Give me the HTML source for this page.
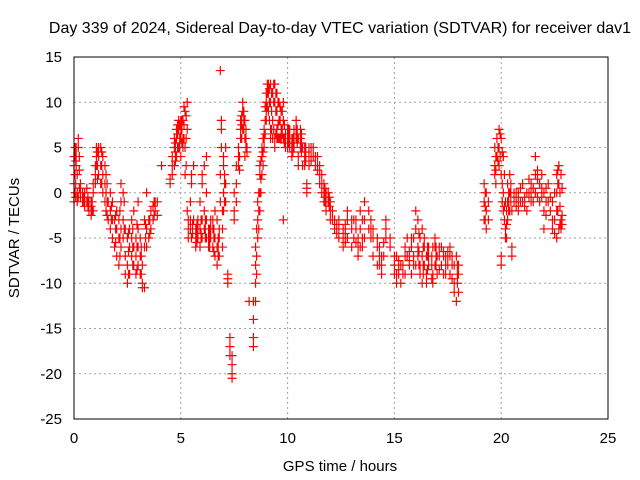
<!DOCTYPE html>
<html><head><meta charset="utf-8"><style>
body{margin:0;background:#fff}
svg{display:block;font-family:"Liberation Sans",sans-serif}
</style></head><body>
<svg id="chart" width="640" height="480">
<rect width="640" height="480" fill="#fff"/>
<text x="340" y="33" font-size="16" text-anchor="middle">Day 339 of 2024, Sidereal Day-to-day VTEC variation (SDTVAR) for receiver dav1</text>
<text transform="translate(19,238) rotate(-90)" font-size="15" text-anchor="middle">SDTVAR / TECUs</text>
<text x="340" y="471" font-size="15" text-anchor="middle">GPS time / hours</text>
<g id="grid"></g><g id="ticks"></g><g id="marks"></g>
<rect x="74" y="57" width="534" height="362" fill="none" stroke="#000" stroke-width="1"/>
</svg>
<script>
const xTicks=[0,5,10,15,20,25];
const yTicks=[15,10,5,0,-5,-10,-15,-20,-25];
const hours=[0,0.05,0.1,0.15,0.2,0.3,0.4,0.5,0.6,0.7,0.8,0.9,1.0,1.05,1.15,1.25,1.35,1.45,1.5,1.6,1.7,1.8,1.9,2.0,2.1,2.2,2.3,2.4,2.5,2.6,2.7,2.8,2.9,3.0,3.1,3.2,3.3,3.4,3.5,3.6,3.7,3.8,3.9,4.1,4.5,4.6,4.7,4.8,4.9,5.0,5.1,5.2,5.3,5.35,5.45,5.5,5.6,5.7,5.8,5.9,6.0,6.1,6.2,6.3,6.4,6.5,6.6,6.7,6.8,6.85,6.9,7.0,7.1,7.2,7.3,7.4,7.5,7.6,7.7,7.8,7.9,8.0,8.1,8.2,8.4,8.5,8.6,8.7,8.8,8.9,9.0,9.1,9.2,9.3,9.4,9.5,9.6,9.7,9.8,9.9,10.0,10.1,10.2,10.3,10.4,10.5,10.6,10.7,10.8,10.9,11.0,11.2,11.3,11.5,11.6,11.7,11.8,11.9,12.0,12.1,12.2,12.4,12.6,12.8,13.0,13.1,13.3,13.4,13.6,13.8,14.0,14.2,14.4,14.6,14.8,15.0,15.1,15.3,15.5,15.6,15.8,16.0,16.1,16.2,16.3,16.4,16.5,16.6,16.8,16.9,17.0,17.2,17.4,17.6,17.8,17.9,18.0,19.2,19.3,19.4,19.7,19.8,19.9,20.0,20.1,20.2,20.3,20.4,20.5,20.6,20.8,21.0,21.2,21.4,21.6,21.8,22.0,22.2,22.4,22.6,22.7,22.8];
const sdtvar=[[1,3,4,-1],[2,4,5,0],[3,5,4],[0,2,-1],[5,6,-0.5],[-0.5,0,1],[-1,0],[-1.5,-0.5,0],[-1,0.5],[-2,-1],[-2.5,-1.5,-1],[-2,0,1],[2,3,1],[4,5,3],[5,4,2],[3,5,1],[4,2,0],[1,3,-1],[-2,0,2],[-3,-1],[-2,-4,0],[-5,-3,-1],[-6,-3],[-7,-4,-2],[-8,-5,-3],[-6,-4,-1,1],[-5,-3,0],[-9,-7,-4],[-10,-8,-5],[-9,-6,-4],[-7,-5,-3],[-8,-6,-2],[-9,-7,-5],[-8,-6,-4,-1],[-9,-7,-5],[-10,-10.5,-8],[-10.5,-6,-3],[0,-4,-6],[-5,-3],[-4,-2],[-3,-1.5],[-2,-1],[-1,-2.5],[3],[1,1.5],[2,3,4],[3,5,6],[4,6,7],[5,7,8],[4,6,7,8],[6,8,5],[2,5,9],[10,7,-2],[-3,-4,-5],[-4,-3,-1],[-5,1,2],[3,-3],[-4,-5,-6],[-5,-4,-3],[-6,-4,-1],[-5,-3,1,2],[-4,-2,3],[-5,-3,0,4],[-4,-6,-5],[-3,-5,-4],[-4,-6,-3],[-5,-7,-2],[-6,-8,-3],[-7,-5,-4],[13.5,2,-1],[7,8,5],[0,3,4,-2],[-1,1,5],[-9,-10,-9.5],[-16,-17,-18],[-18,-19,-20,-20.5],[-3,-2,0],[-1,1,3],[3,4,5],[6,8,7],[9,10,7],[8,6,4],[5,4.5],[-12],[-17,-16,-14,-12],[-12,-10,-8,-6],[-5,-3,-1],[-2,0,2,3],[2,4,5],[5,6,7],[8,9,10,11],[12,11,9],[12,10,6,7],[11,8,6],[12,10,6,5],[11,9,7,6],[10,8,6],[9,7,6],[10,8,6,-3],[6.5,6,5],[6,5,7],[6,7,5],[5,6,4],[6,7,5],[7,8,6],[6,4,3],[5,6,7],[5,3],[4,5,3],[1,0.5,0],[3,4,5],[5,4],[4,3],[3,2,1],[2,1,0],[1,0,-1],[0,-1,-2],[0,-1],[-3,-2,-1],[-2,-3],[-4,-3],[-5,-3,-4],[-5,-4,-6],[-5,-3,-2],[-4,-6,-3],[-3,-5],[-5,-7,-6],[-6,-4,-2],[-5,-3,-1],[-4,-2],[-5,-7,-4],[-6,-8,-5],[-8,-9,-7],[-4,-5,-3],[-5,-6],[-8,-9,-7],[-9,-10,-7],[-10,-8],[-9,-7,-6],[-5,-7],[-9,-6,-5],[-8,-4,-2],[-6,-3,-7],[-9,-8,-5],[-10,-7,-4],[-8,-6,-5],[-9,-7,-10],[-8,-6,-7],[-9,-6,-10],[-8,-6,-5],[-7,-9],[-8,-6],[-7,-9,-8],[-6,-7,-9],[-10,-8,-11],[-12,-7],[-9,-11,-8],[-3,-1,1],[-2,-4,0],[-1,-3],[5,3,2],[6,4],[7,5,3],[6,2,-8,-7],[4,0,-2],[-1,-4,-5],[-3,-1,1],[0,2,-2],[-2,-6,-7],[-1,0],[-2,0,-1],[-1,1],[-2,0],[1,-1,0],[2,0,4],[-1,1],[0,-2,-4],[1,-1],[-4,-3,-1],[-5,-2,0,2],[-4,3,1],[-3,-4,2]];
const hours2=[0.08,0.25,0.45,0.65,0.85,1.1,1.3,1.55,1.75,1.95,2.15,2.35,2.55,2.75,2.95,3.15,3.35,3.55,3.75,4.75,4.85,4.95,5.05,5.15,5.25,5.55,5.75,5.95,6.15,6.35,6.55,6.75,6.95,7.05,7.75,7.85,7.95,8.05,8.55,8.65,8.75,8.85,8.95,9.05,9.15,9.25,9.35,9.45,9.55,9.65,9.75,9.85,10.05,10.25,10.45,10.65,10.85,11.1,11.4,11.75,11.95,12.3,12.7,13.2,13.5,13.9,14.3,14.5,15.2,15.4,15.7,15.9,16.15,16.35,16.55,16.75,16.95,17.1,17.3,17.5,17.7,17.95,19.25,19.75,19.85,19.95,20.05,20.15,20.25,20.35,20.45,20.7,20.9,21.1,21.3,21.5,21.7,21.9,22.1,22.3,22.5,22.65,22.75,22.85];
const sdtvar2=[[3.5,1,-0.5],[4,0.5,2.5],[-1,-0.5],[-0.5,-1.5],[-2,-1],[3,4.5,1.5],[4.5,3,1],[-1,1,-2.5],[-3,-1.5],[-5.5,-4,-2.5],[-7,-5,-2],[-4,-1],[-9,-6.5,-4.5],[-8,-6,-4],[-8.5,-6,-3.5],[-9,-7,-6],[-5,-3.5],[-4.5,-3],[-2.5,-1],[4.5,5.5,3.5],[5,6.5,7.5],[6,7.5,5],[7,5.5,8],[7.5,6,9.5],[6,8.5,3],[-4.5,-3.5],[-4.5,-5.5,-3.5],[-5,-4.5,-3],[-4,-5,-3],[-5,-4,-6],[-5,-6.5,-4],[-6,-7,-5],[-6,-4,-2],[1,2,-1],[4,2.5],[7.5,8.5,6],[9,8,7],[7,6,5],[-7,-4,-9],[-4,-2,0],[0,1.5,3.5],[3,4.5,6],[6.5,8,9.5],[9.5,11,12],[11.5,10,8],[11,7,9],[10,12,7],[9,11,6.5],[10,7.5,6],[8,9.5,6],[9,7,6.5],[7.5,6,5.5],[6,7,5.5],[6,5.5,4.5],[7,6.5,5.5],[5.5,4.5,6.5],[4.5,3.5,5],[4,5,3.5],[4,3,2.5],[0.5,-0.5,-1],[-0.5,-1.5],[-3.5,-4.5],[-4.5,-3.5,-5.5],[-4,-5.5,-3],[-5,-6,-3],[-4,-5,-3],[-7,-6,-8],[-5.5,-7],[-9,-8.5,-7.5],[-9,-8],[-8,-6.5,-7.5],[-7,-5,-8],[-4.5,-6.5,-8],[-6,-8,-9],[-7,-8.5,-6],[-7,-8,-9.5],[-7,-8,-6],[-7,-8.5,-6],[-7,-9,-6.5],[-8,-7,-6.5],[-8,-9.5,-7],[-8,-10,-9],[-1.5,-3,0],[4,2.5,1],[5,3.5],[6.5,4],[4.5,1,-1],[2,-1.5,-3],[-2,-3.5,-5],[-2,0,-1],[-1,1,0],[-1.5,-0.5,0],[-1,0.5],[-0.5,-1.5],[0,1.5,-0.5],[0.5,-1],[1.5,2.5,-0.5],[-0.5,0.5,2],[-1,-2.5,0.5],[-2,-0.5],[-3,-4.5,0],[-2,1,2.5],[-3.5,0,-1.5],[-2.5,-3.5,0.5]];
const NS='http://www.w3.org/2000/svg';
const L=74,R=608,T=57,B=419;
function xs(h){return L+(h-0)/(25-0)*(R-L);}
function ys(v){return B-(v+25)/(15+25)*(B-T);}
const grid=document.getElementById('grid'),ticks=document.getElementById('ticks'),marks=document.getElementById('marks');
xTicks.forEach(t=>{
 const x=xs(t);
 if(t>0&&t<25){const g=document.createElementNS(NS,'line');
 g.setAttribute('x1',x);g.setAttribute('x2',x);g.setAttribute('y1',T);g.setAttribute('y2',B);
 g.setAttribute('stroke','#a0a0a0');g.setAttribute('stroke-dasharray','2,3');
 
 
 grid.appendChild(g);}
 const tx=document.createElementNS(NS,'text');
 tx.setAttribute('x',x);tx.setAttribute('y',443);tx.setAttribute('font-size','15');tx.setAttribute('text-anchor','middle');
 tx.textContent=t;
 
 
 ticks.appendChild(tx);
});
yTicks.forEach(t=>{
 const y=ys(t);
 if(t<15&&t>-25){const g=document.createElementNS(NS,'line');
 g.setAttribute('x1',L);g.setAttribute('x2',R);g.setAttribute('y1',y);g.setAttribute('y2',y);
 g.setAttribute('stroke','#a0a0a0');g.setAttribute('stroke-dasharray','2,3');
 
 
 grid.appendChild(g);}
 const tx=document.createElementNS(NS,'text');
 tx.setAttribute('x',62);tx.setAttribute('y',y+5);tx.setAttribute('font-size','15');tx.setAttribute('text-anchor','end');
 tx.textContent=t;
 
 
 ticks.appendChild(tx);
});
let d='';
function addPts(hs,vs){hs.forEach((h,i)=>{(vs[i]||[]).forEach(v=>{const x=xs(h),y=ys(v);d+=`M${x-4.5},${y}h9M${x},${y-4.5}v9`;});});}
addPts(hours,sdtvar);
addPts(hours2,sdtvar2);
const p=document.createElementNS(NS,'path');
p.setAttribute('d',d);p.setAttribute('stroke','#ff0000');p.setAttribute('stroke-width','1.2');p.setAttribute('fill','none');


marks.appendChild(p);
</script>
</body></html>
